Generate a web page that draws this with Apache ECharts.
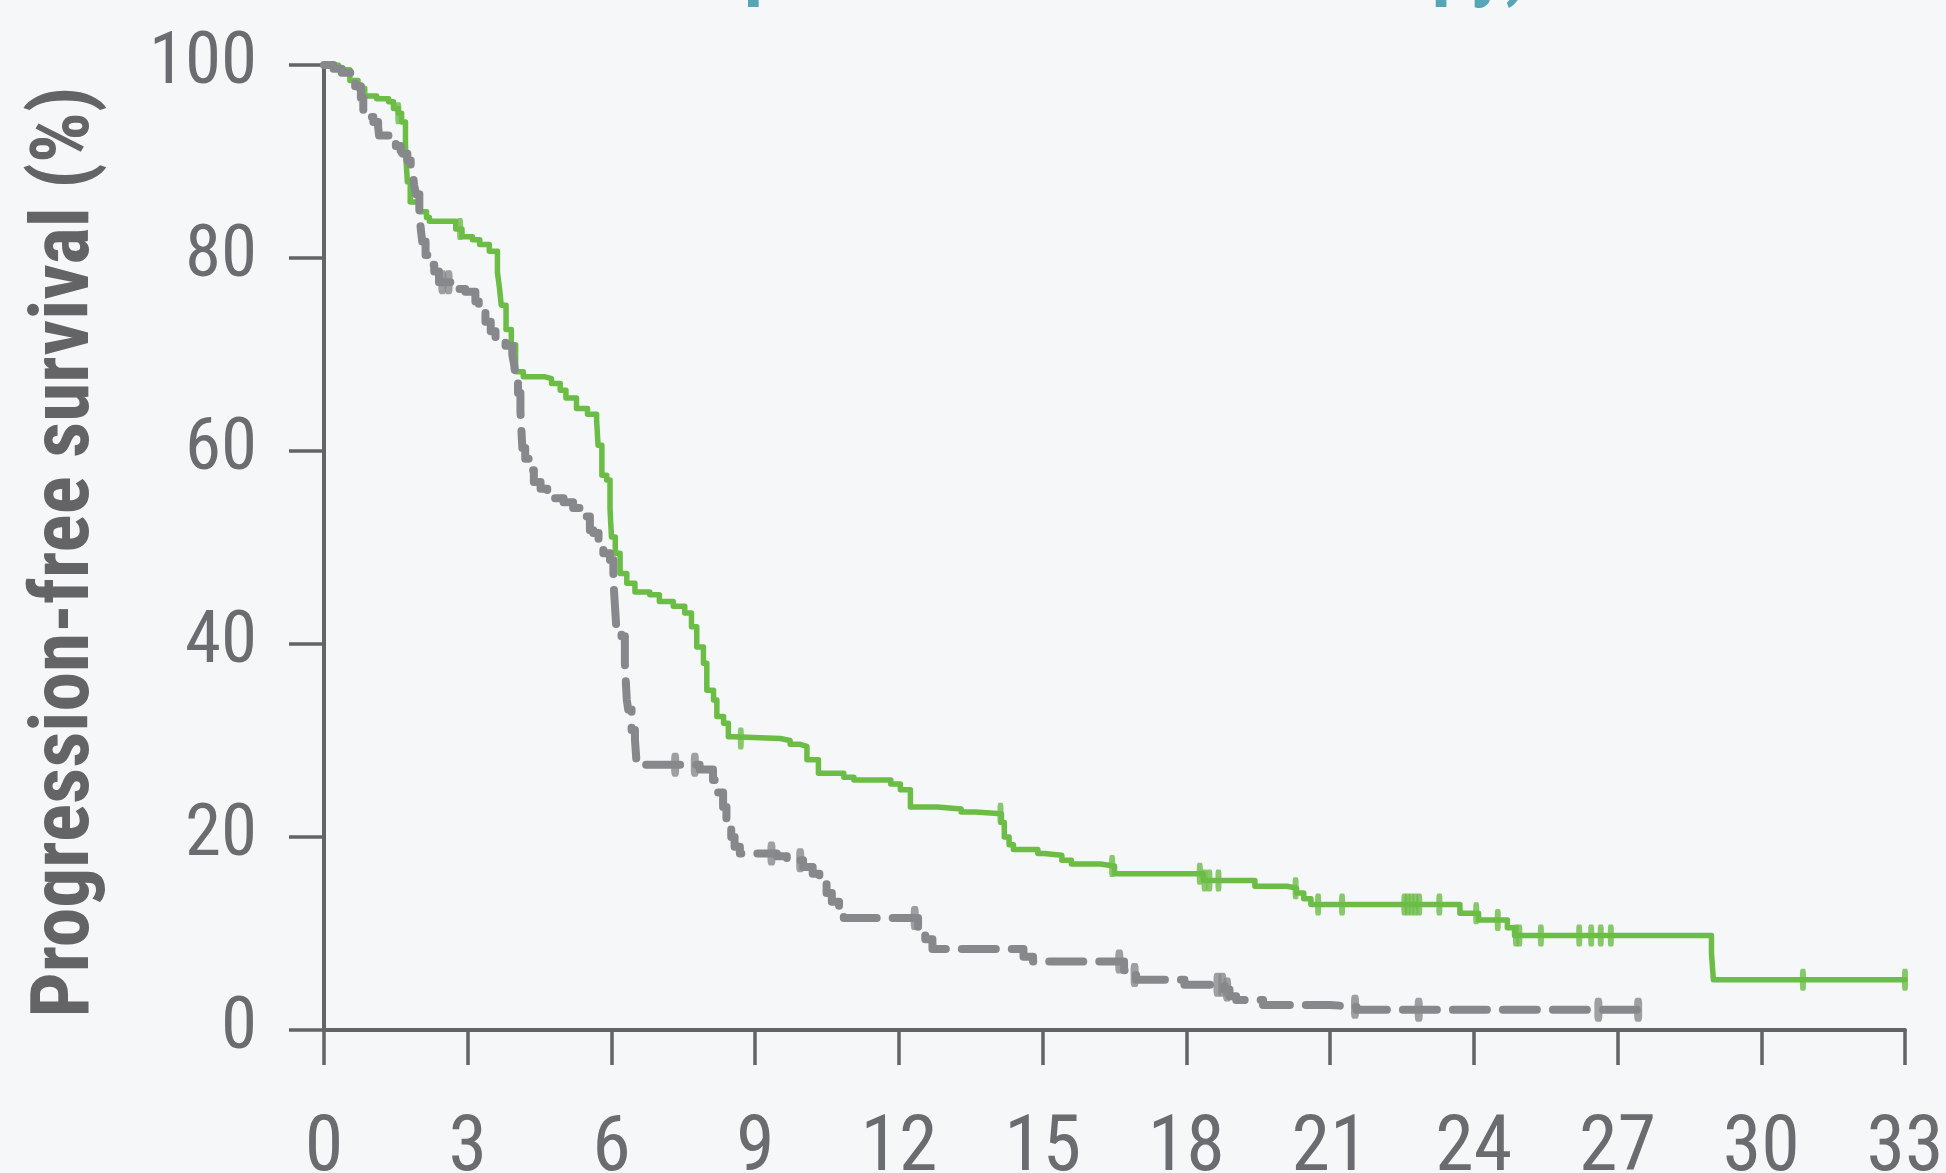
<!DOCTYPE html>
<html>
<head>
<meta charset="utf-8">
<script src="https://cdn.jsdelivr.net/npm/echarts@6/dist/echarts.min.js"></script>
<style>
html,body{margin:0;padding:0;background:#f6f7f9;overflow:hidden}
#c{width:1946px;height:1173px}
</style>
</head>
<body>
<div id="c"></div>
<script>
// ---- data ----
const xTicks = [0, 3, 6, 9, 12, 15, 18, 21, 24, 27, 30, 33];
const yTicks = [0, 20, 40, 60, 80, 100];

// Pembrolizumab + chemotherapy arm (green, solid)
const pembroTime = [0,0.3,0.54,0.71,0.85,1.1,1.35,1.45,1.55,1.62,1.7,1.72,1.74,1.8,2.0,2.14,2.2,2.75,2.88,3.1,3.25,3.45,3.62,3.66,3.7,3.8,3.91,4.0,4.16,4.6,4.75,4.93,5.05,5.27,5.5,5.69,5.72,5.8,5.9,5.97,6.0,6.08,6.18,6.32,6.49,6.8,7.0,7.29,7.53,7.67,7.78,7.92,7.99,8.13,8.2,8.34,8.44,8.55,9.52,9.73,9.94,10.08,10.32,10.85,11.06,11.83,12.03,12.24,12.8,13.3,13.6,14.14,14.2,14.3,14.39,14.9,15.03,15.4,15.6,16.2,16.5,18.35,19.43,20.1,20.3,20.45,20.6,23.71,24.1,24.7,24.85,28.96,29.0,33.0];
const pembroSurv = [100,99.5,98.4,97.6,96.8,96.5,96.2,95.5,95.0,94.1,91.7,89.5,87.9,85.8,84.8,84.2,83.8,83.0,82.2,81.9,81.4,80.7,78.5,77.0,75.1,72.6,71.0,68.2,67.7,67.5,67.0,66.3,65.5,64.4,63.8,63.2,60.6,57.5,57.0,54.0,51.1,49.4,47.3,46.3,45.4,45.1,44.4,43.9,43.2,41.8,39.7,38.0,35.2,34.2,32.5,31.8,30.4,30.2,30.0,29.6,29.4,28.0,26.6,26.2,25.9,25.5,24.9,23.1,22.9,22.6,22.4,21.5,20.0,19.2,18.7,18.3,18.1,17.6,17.2,17.0,16.2,15.5,14.9,14.7,14.2,13.6,13.0,12.1,11.4,10.6,9.8,8.0,5.2,5.2];
const pembroCensor = [1.55,2.84,8.7,14.12,16.45,18.28,18.38,18.48,18.67,20.28,20.75,21.25,22.55,22.62,22.7,22.78,22.86,23.28,24.05,24.5,24.88,24.95,25.4,26.2,26.45,26.65,26.86,30.87,33.0];

// Placebo + chemotherapy arm (grey, dashed)
const placeboTime = [0,0.2,0.37,0.56,0.65,0.77,0.82,0.96,1.03,1.13,1.15,1.39,1.5,1.6,1.64,1.74,1.81,1.85,1.88,1.92,1.99,2.02,2.05,2.12,2.19,2.3,2.4,2.74,2.95,3.16,3.23,3.37,3.48,3.58,3.79,3.93,3.97,4.0,4.05,4.1,4.14,4.2,4.27,4.38,4.52,4.66,4.8,5.0,5.2,5.41,5.55,5.62,5.73,5.83,5.97,6.04,6.07,6.1,6.21,6.28,6.32,6.35,6.42,6.49,6.52,6.66,7.84,8.12,8.19,8.33,8.4,8.5,8.57,8.68,9.45,9.66,10.0,10.2,10.34,10.49,10.6,10.75,10.85,12.4,12.55,12.7,14.6,14.8,16.7,16.9,16.95,17.96,18.8,18.9,19.04,19.6,21.0,21.55,27.43];
const placeboSurv = [100,99.6,99.2,98.4,97.8,96.6,95.3,94.6,94.1,93.6,92.7,92.1,91.6,91.1,90.8,90.1,89.3,89.0,87.6,86.6,84.8,83.0,81.7,80.3,79.3,78.6,77.5,76.8,76.5,75.5,74.4,73.4,72.4,71.7,70.9,70.0,68.9,67.5,66.0,64.1,60.3,59.2,58.0,56.8,56.1,55.4,55.1,54.7,54.1,53.2,51.8,51.5,50.4,49.4,48.7,46.6,44.2,41.8,40.8,38.0,34.2,33.2,31.1,30.1,28.0,27.5,27.0,25.9,24.6,23.1,21.4,20.0,19.0,18.3,18.0,17.6,16.9,16.2,15.2,14.2,13.3,12.2,11.6,10.4,9.4,8.4,7.6,7.1,6.2,5.7,5.2,4.7,4.2,3.5,3.1,2.6,2.4,2.1,2.1];
const placeboCensor = [2.47,2.6,7.33,7.74,9.34,9.94,12.33,16.6,16.92,18.65,18.75,18.85,21.52,22.85,26.6,27.43];

const yAxisTitle = 'Progression-free survival (%)';
const titleText = 'for placebo + chemotherapy)';

// ---- helpers ----
function pairs(t, s) { return t.map((v, i) => [v, s[i]]); }
function survAt(t, times, surv) {
  let v = surv[0];
  for (let i = 0; i < times.length; i++) { if (times[i] <= t) v = surv[i]; else break; }
  return v;
}
function textWidth(font, s) {
  const ctx = document.createElement('canvas').getContext('2d');
  ctx.font = font; return ctx.measureText(s).width;
}

const GREEN = '#6bbd46';
const GREY = '#87888b';
const AXIS = '#646467';
const LABEL = '#6b6c70';
const NARROW = "'Liberation Sans Narrow', 'Roboto Condensed', 'Arial Narrow', 'Liberation Sans', sans-serif";

const yTitleFont = "bold 82px " + NARROW;
const yTitleScale = 931 / textWidth(yTitleFont, yAxisTitle);
const titleFont = "bold 72px " + NARROW;
const titleScale = 894 / textWidth(titleFont, titleText);

const chart = echarts.init(document.getElementById('c'), null, { renderer: 'canvas' });
chart.setOption({
  animation: false,
  backgroundColor: '#f6f7f9',
  grid: { left: 324, right: 41, top: 65, bottom: 143, containLabel: false, outerBoundsMode: 'none' },
  xAxis: {
    type: 'value', min: 0, max: 33, interval: 3,
    axisLine: { show: true, lineStyle: { color: AXIS, width: 4 } },
    axisTick: { show: true, length: 35, lineStyle: { color: AXIS, width: 3.5 } },
    axisLabel: {
      color: LABEL, fontSize: 78, fontFamily: NARROW, margin: 81,
      formatter: v => xTicks.includes(v) ? String(v) : ''
    },
    splitLine: { show: false }
  },
  yAxis: {
    type: 'value', min: 0, max: 100, interval: 20,
    axisLine: { show: true, lineStyle: { color: AXIS, width: 4 } },
    axisTick: { show: true, length: 35, lineStyle: { color: AXIS, width: 3.5 } },
    axisLabel: {
      color: LABEL, fontSize: 73, fontFamily: NARROW, margin: 67,
      formatter: v => yTicks.includes(v) ? String(v) : ''
    },
    splitLine: { show: false }
  },
  graphic: [
    {
      type: 'text', x: 67, y: 552, rotation: Math.PI / 2, scaleX: yTitleScale,
      style: { text: yAxisTitle, font: yTitleFont, fill: '#646467', align: 'center', verticalAlign: 'middle' }
    },
    {
      type: 'text', x: 636, y: 10, scaleX: titleScale,
      style: { text: titleText, font: titleFont, fill: '#57a6b8', align: 'left', verticalAlign: 'bottom' }
    }
  ],
  series: [
    {
      name: 'Pembrolizumab + chemotherapy', type: 'line', step: 'end', showSymbol: false,
      data: pairs(pembroTime, pembroSurv), z: 2,
      lineStyle: { color: GREEN, width: 5.5, cap: 'round', join: 'round' }
    },
    {
      name: 'Pembrolizumab censored', type: 'scatter', symbol: 'roundRect', symbolSize: [6, 22], z: 2,
      itemStyle: { color: GREEN },
      data: pembroCensor.map(t => [t, survAt(t, pembroTime, pembroSurv)])
    },
    {
      name: 'Placebo + chemotherapy', type: 'line', step: 'end', showSymbol: false,
      data: pairs(placeboTime, placeboSurv), z: 3,
      lineStyle: { color: GREY, width: 8, type: [34, 16], cap: 'round', join: 'round' }
    },
    {
      name: 'Placebo censored', type: 'scatter', symbol: 'roundRect', symbolSize: [8, 24], z: 3,
      itemStyle: { color: GREY },
      data: placeboCensor.map(t => [t, survAt(t, placeboTime, placeboSurv)])
    }
  ]
});
</script>
</body>
</html>
